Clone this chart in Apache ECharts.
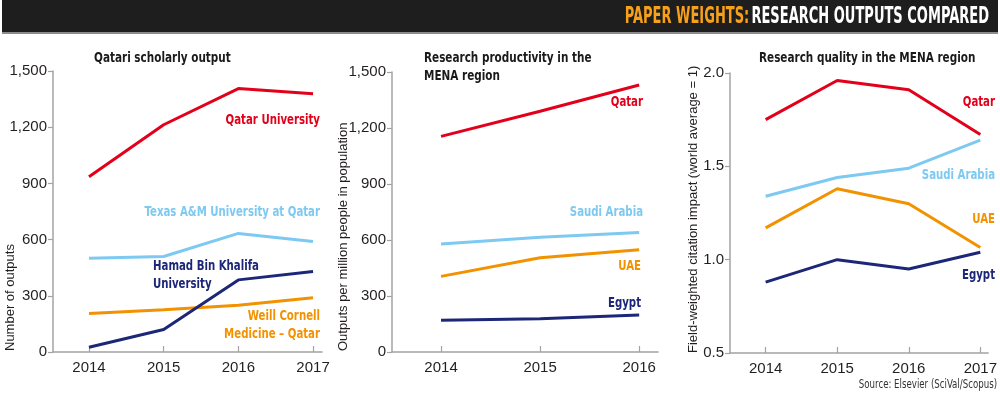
<!DOCTYPE html>
<html>
<head>
<meta charset="utf-8">
<script src="https://cdn.jsdelivr.net/npm/echarts@6/dist/echarts.min.js"></script>
<style>
  html, body { margin: 0; padding: 0; background: #fff; }
  #chart { width: 1000px; height: 398px; }
</style>
</head>
<body>
<div id="chart"></div>
<script>
const yearsFour = [2014, 2015, 2016, 2017];
const yearsThree = [2014, 2015, 2016];

// Qatari scholarly output (number of outputs)
const qatarUniversity = [935, 1213, 1406, 1378];
const texasAM = [500, 510, 633, 590];
const hamadBinKhalifa = [25, 120, 385, 430];
const weillCornell = [205, 225, 250, 290];

// Research productivity (outputs per million people)
const prodQatar = [1155, 1290, 1430];
const prodSaudi = [578, 615, 640];
const prodUae = [405, 505, 548];
const prodEgypt = [170, 178, 198];

// Research quality (field-weighted citation impact)
const qualQatar = [1.75, 1.96, 1.91, 1.67];
const qualSaudi = [1.34, 1.44, 1.49, 1.64];
const qualUae = [1.17, 1.38, 1.3, 1.065];
const qualEgypt = [0.88, 1.0, 0.95, 1.04];

const RED = "#e2001a";
const SKY = "#7dc9f1";
const NAVY = "#1d2777";
const ORANGE = "#f39200";

// no narrow font installed, so condensed faces get squeezed with scaleX
const NARROW = "'Liberation Sans Narrow', 'DejaVu Sans Condensed', sans-serif";
const REGULAR = "'Liberation Sans', Arial, sans-serif";

const chart = echarts.init(document.getElementById("chart"));

const grids = [
  { left: 53, top: 71, width: 269, height: 281 },
  { left: 392, top: 72, width: 266, height: 280 },
  { left: 730, top: 73, width: 268, height: 280 },
];

function xAxis(gridIndex, years, min, max) {
  return {
    type: "value",
    gridIndex,
    min,
    max,
    axisLine: { lineStyle: { color: "#a3a3a3", width: 1.5 } },
    axisTick: { inside: true, length: 6, customValues: years, lineStyle: { color: "#a3a3a3", width: 1.2 } },
    axisLabel: {
      customValues: years,
      formatter: (v) => String(v),
      color: "#231f20",
      fontFamily: REGULAR,
      fontSize: 15,
      margin: 8,
    },
    splitLine: { show: false },
  };
}

function yAxis(gridIndex, min, max, interval, digits) {
  return {
    type: "value",
    gridIndex,
    min,
    max,
    interval,
    axisLine: { show: true, lineStyle: { color: "#a3a3a3", width: 1.5 } },
    axisTick: { show: true, length: 5, lineStyle: { color: "#a3a3a3", width: 1.2 } },
    axisLabel: {
      formatter: (v) => (digits ? v.toFixed(digits) : v.toLocaleString("en-US")),
      color: "#231f20",
      fontFamily: REGULAR,
      fontSize: 15,
      margin: 6,
    },
    splitLine: { show: false },
  };
}

function line(name, index, years, values, color) {
  return {
    name,
    type: "line",
    xAxisIndex: index,
    yAxisIndex: index,
    data: years.map((y, i) => [y, values[i]]),
    symbol: "none",
    lineStyle: { color, width: 3 },
    itemStyle: { color },
    silent: true,
    z: 3,
  };
}

function label(text, x, y, color, align) {
  return {
    type: "text",
    x,
    y,
    scaleX: 0.78,
    style: {
      text,
      fill: color,
      font: `bold 14.5px ${NARROW}`,
      textAlign: align || "right",
      textVerticalAlign: "middle",
      lineHeight: 18,
    },
  };
}

function title(text, x, y) {
  return {
    type: "text",
    x,
    y,
    scaleX: 0.83,
    style: {
      text,
      fill: "#1a1a1a",
      font: `bold 14px ${NARROW}`,
      textAlign: "left",
      textVerticalAlign: "top",
      lineHeight: 18,
    },
  };
}

function axisName(text, x, y) {
  return {
    type: "text",
    x,
    y,
    rotation: Math.PI / 2,
    style: {
      text,
      fill: "#231f20",
      font: `13px ${REGULAR}`,
      textAlign: "left",
      textVerticalAlign: "middle",
    },
  };
}

chart.setOption({
  animation: false,
  grid: grids,
  xAxis: [
    xAxis(0, yearsFour, 2013.518, 2017.12),
    xAxis(1, yearsThree, 2013.505, 2016.19),
    xAxis(2, yearsFour, 2013.502, 2017.11),
  ],
  yAxis: [
    yAxis(0, 0, 1500, 300, 0),
    yAxis(1, 0, 1500, 300, 0),
    yAxis(2, 0.5, 2.0, 0.5, 1),
  ],
  series: [
    line("Qatar University", 0, yearsFour, qatarUniversity, RED),
    line("Texas A&M University at Qatar", 0, yearsFour, texasAM, SKY),
    line("Weill Cornell Medicine – Qatar", 0, yearsFour, weillCornell, ORANGE),
    line("Hamad Bin Khalifa University", 0, yearsFour, hamadBinKhalifa, NAVY),
    line("Qatar", 1, yearsThree, prodQatar, RED),
    line("Saudi Arabia", 1, yearsThree, prodSaudi, SKY),
    line("UAE", 1, yearsThree, prodUae, ORANGE),
    line("Egypt", 1, yearsThree, prodEgypt, NAVY),
    line("Qatar", 2, yearsFour, qualQatar, RED),
    line("Saudi Arabia", 2, yearsFour, qualSaudi, SKY),
    line("UAE", 2, yearsFour, qualUae, ORANGE),
    line("Egypt", 2, yearsFour, qualEgypt, NAVY),
  ],
  graphic: [
    // header bar
    { type: "rect", shape: { x: 2, y: 0, width: 996, height: 34 }, style: { fill: "#8c8c8c" }, z: 0 },
    { type: "rect", shape: { x: 2, y: 0, width: 996, height: 32 }, style: { fill: "#1e1e1e" }, z: 1 },
    {
      type: "text",
      x: 989,
      y: 17,
      z: 2,
      scaleX: 0.63,
      style: {
        rich: {
          a: { fill: "#f7a11a", font: `bold 23px ${NARROW}` },
          b: { fill: "#ffffff", font: `bold 23px ${NARROW}` },
        },
        text: "{a|PAPER WEIGHTS:} {b|RESEARCH OUTPUTS COMPARED}",
        textAlign: "right",
        textVerticalAlign: "middle",
      },
    },
    title("Qatari scholarly output", 94, 49),
    title("Research productivity in the\nMENA region", 424, 49),
    title("Research quality in the MENA region", 759, 49),
    axisName("Number of outputs", 10, 351),
    axisName("Outputs per million people in population", 343, 351),
    axisName("Field-weighted citation impact (world average = 1)", 693, 353),
    label("Qatar University", 320, 120, RED),
    label("Texas A&M University at Qatar", 320, 212, SKY),
    label("Hamad Bin Khalifa\nUniversity", 153, 275, NAVY, "left"),
    label("Weill Cornell\nMedicine – Qatar", 320, 325, ORANGE),
    label("Qatar", 643, 102, RED),
    label("Saudi Arabia", 643, 212, SKY),
    label("UAE", 641, 266, ORANGE),
    label("Egypt", 641, 303, NAVY),
    label("Qatar", 995, 102, RED),
    label("Saudi Arabia", 995, 175, SKY),
    label("UAE", 995, 219, ORANGE),
    label("Egypt", 995, 275, NAVY),
    {
      type: "text",
      x: 997,
      y: 385,
      scaleX: 0.8,
      style: {
        text: "Source: Elsevier (SciVal/Scopus)",
        fill: "#333333",
        font: `12px ${NARROW}`,
        textAlign: "right",
        textVerticalAlign: "middle",
      },
    },
  ],
});
</script>
</body>
</html>
